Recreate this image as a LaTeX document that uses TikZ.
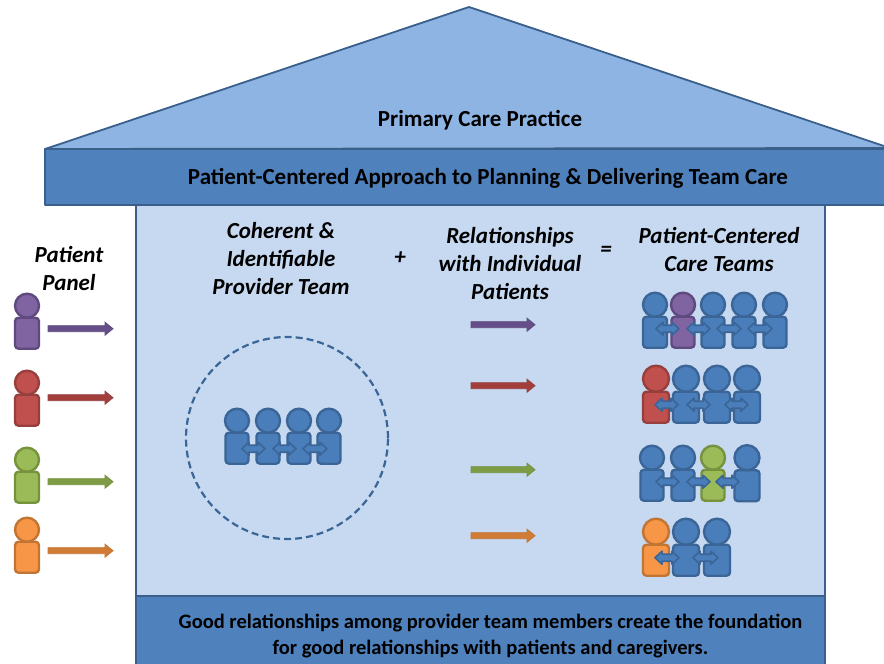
\documentclass[tikz,border=0pt]{standalone}
\usepackage{fontspec}
\setmainfont{Carlito}
\definecolor{frame}{HTML}{3A5F8B}
\definecolor{band}{HTML}{4F81BD}
\definecolor{roof}{HTML}{8EB4E3}
\definecolor{wall}{HTML}{C6D9F1}
\definecolor{tblue}{HTML}{4A7EBB}
\definecolor{sblue}{HTML}{3A6596}
\definecolor{tpurple}{HTML}{8064A2}
\definecolor{spurple}{HTML}{5F4A7F}
\definecolor{apurple}{HTML}{664E88}
\definecolor{tred}{HTML}{C0504D}
\definecolor{sred}{HTML}{973F3D}
\definecolor{ared}{HTML}{A23F3D}
\definecolor{tgreen}{HTML}{9BBB59}
\definecolor{sgreen}{HTML}{76923C}
\definecolor{agreen}{HTML}{7E9B45}
\definecolor{torange}{HTML}{F79646}
\definecolor{sorange}{HTML}{C27533}
\definecolor{aorange}{HTML}{D07B36}
\tikzset{
  houseface/.style={draw=frame,line width=1.8pt,line join=round},
  bandtext/.style={font=\bfseries,text=black,align=center,inner sep=0pt},
  headtext/.style={font=\bfseries\itshape,text=black,align=center,inner sep=0pt},
  teamring/.style={draw=sblue,line width=2.2pt,dash pattern=on 7pt off 4pt},
  personpart/.style={line width=2.4pt},
  linkarrow/.style={fill=tblue,draw=sblue,line width=1.6pt,line join=round},
  flowarrow/.style={line width=.8pt,line join=miter}
}
% \person{name}{cx}{head cy}{r}{halfwidth}{fill}{stroke}
\newcommand{\person}[7]{%
  \fill[#6,draw=#7,personpart,rounded corners=3.5pt]
    ({#2-#5},{#3+#4+.7}) rectangle ({#2+#5},{#3+#4+31.7});
  \node[circle,fill=#6,draw=#7,personpart,minimum size={2*#4*1pt},inner sep=0pt] (#1) at (#2,{#3+.7}) {};
}
% \link{x1}{x2}{y}
\newcommand{\link}[3]{%
  \draw[linkarrow,yshift=-.7pt] (#1,#3) -- ({#1+7},{#3-6.5}) -- ({#1+7},{#3-3.5}) -- ({#2-7},{#3-3.5}) -- ({#2-7},{#3-6.5})
     -- (#2,#3) -- ({#2-7},{#3+6.5}) -- ({#2-7},{#3+3.5}) -- ({#1+7},{#3+3.5}) -- ({#1+7},{#3+6.5}) -- cycle;
}
% \flow{x1}{x2}{y}{fill}{stroke}
\newcommand{\flow}[5]{%
  \fill[#4,draw=#5,flowarrow,yshift=-.7pt] (#1,{#3-3}) -- ({#2-8},{#3-3}) -- ({#2-8},{#3-6.5}) -- (#2,#3)
     -- ({#2-8},{#3+6.5}) -- ({#2-8},{#3+3}) -- (#1,{#3+3}) -- cycle;
}
\begin{document}
\begin{tikzpicture}[x=1pt,y=-1pt]
\useasboundingbox (0,0) rectangle (884,664);
% house
\draw[houseface,fill=roof] (45,149) -- (469,7) -- (890,148) -- cycle;
\draw[houseface,fill=wall] (136,205) rectangle (825,596);
\draw[houseface,fill=band] (45,149) rectangle (890,205);
\draw[houseface,fill=band] (136,596) rectangle (825,670);
% texts
\node[bandtext,font=\fontsize{23}{25}\bfseries\selectfont] (practice) at (480,120.5) {Primary Care Practice};
\node[bandtext,font=\fontsize{23}{25}\bfseries\selectfont] (approach) at (488,178.5) {Patient-Centered Approach to Planning \& Delivering Team Care};
\node[bandtext,font=\fontsize{20.5}{26}\bfseries\selectfont] (found) at (490.5,636.5) {Good relationships among provider team members create the foundation\\for good relationships with patients and caregivers.};
\node[headtext,font=\fontsize{23}{28}\bfseries\itshape\selectfont] (panel) at (69,269) {Patient\\Panel};
\node[headtext,font=\fontsize{23}{28}\bfseries\itshape\selectfont] (coherent) at (281,259) {Coherent \&\\Identifiable\\Provider Team};
\node[headtext,font=\fontsize{23}{28}\bfseries\itshape\selectfont] (plus) at (400,258) {+};
\node[headtext,font=\fontsize{23}{28}\bfseries\itshape\selectfont] (rel) at (510,264) {Relationships\\with Individual\\Patients};
\node[headtext,font=\fontsize{23}{28}\bfseries\itshape\selectfont] (eq) at (606,251) {=};
\node[headtext,font=\fontsize{23}{28}\bfseries\itshape\selectfont] (pcct) at (719,250) {Patient-Centered\\Care Teams};
% patient panel
\person{pa}{27}{305}{12}{12}{tpurple}{spurple}
\person{pb}{27}{382}{12}{12}{tred}{sred}
\person{pc}{27}{459}{12}{12}{tgreen}{sgreen}
\person{pd}{27}{529}{12}{12}{torange}{sorange}
\flow{48}{113}{328}{apurple}{spurple}
\flow{48}{113}{397}{ared}{sred}
\flow{48}{113}{481}{agreen}{sgreen}
\flow{48}{113}{550}{aorange}{sorange}
% middle arrows
\flow{471}{535}{324}{apurple}{spurple}
\flow{471}{535}{385}{ared}{sred}
\flow{471}{535}{469}{agreen}{sgreen}
\flow{471}{535}{535}{aorange}{sorange}
% provider team
\node[circle,teamring,minimum size=202pt,inner sep=0pt] (ring) at (287,438) {};
\person{ca}{237}{420}{12}{11.5}{tblue}{sblue}
\person{cb}{268}{420}{12}{11.5}{tblue}{sblue}
\person{cc}{299}{420}{12}{11.5}{tblue}{sblue}
\person{cd}{329}{420}{12}{11.5}{tblue}{sblue}
\link{242}{265}{448}
\link{273}{296}{448}
\link{303}{327}{448}
% team 1
\person{ra}{655}{304}{12}{12}{tblue}{sblue}
\person{rb}{683}{304}{12}{11.5}{tpurple}{spurple}
\person{rc}{713}{304}{12}{11.5}{tblue}{sblue}
\person{rd}{744}{304}{12}{11.5}{tblue}{sblue}
\person{re}{775}{304}{12}{11.5}{tblue}{sblue}
\link{656}{679}{328}
\link{687}{710}{328}
\link{717}{741}{328}
\link{748}{772}{328}
% team 2
\person{sa}{656}{378}{13}{13}{tred}{sred}
\person{sb}{686}{378}{13}{13}{tblue}{sblue}
\person{sc}{717}{378}{13}{13}{tblue}{sblue}
\person{sd}{747}{378}{13}{13}{tblue}{sblue}
\link{655}{678}{404}
\link{687}{710}{404}
\link{725}{748}{404}
% team 3
\person{ta}{652}{457}{12}{11.5}{tblue}{sblue}
\person{tb}{683}{457}{12}{11.5}{tblue}{sblue}
\person{tc}{713}{457}{12}{11.5}{tgreen}{sgreen}
\person{td}{747}{457}{12.5}{12.5}{tblue}{sblue}
\link{656}{679}{481}
\link{687}{710}{481}
\link{716}{739}{481}
% team 4
\person{ua}{656}{531}{13}{13}{torange}{sorange}
\person{ub}{686}{531}{13}{13}{tblue}{sblue}
\person{uc}{717}{531}{13}{13}{tblue}{sblue}
\link{655}{679}{557}
\link{693}{718}{557}
\end{tikzpicture}
\end{document}
